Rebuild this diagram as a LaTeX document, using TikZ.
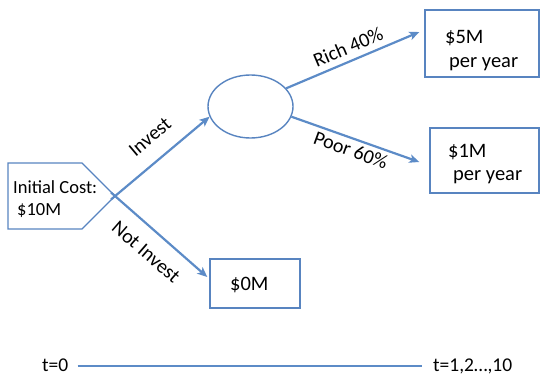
\documentclass[tikz,border=0pt]{standalone}
\usepackage{fontspec}
\setmainfont{Carlito}
\usetikzlibrary{shapes.geometric,arrows.meta,calc}
\definecolor{arrowblue}{RGB}{92,139,199}
\definecolor{boxblue}{RGB}{88,132,192}
\begin{document}
\begin{tikzpicture}[x=1pt,y=1pt,
  conn/.style={draw=arrowblue,line width=2.2pt,-{Stealth[length=10pt,width=8.5pt,inset=2.5pt]}},
  outline/.style={draw=boxblue,line width=1.4pt},
  lab/.style={font=\fontsize{20}{24}\selectfont,inner sep=0pt},
  boxtext/.style={font=\fontsize{20.5}{24}\selectfont,inner sep=0pt,anchor=base west},
  ttext/.style={font=\fontsize{19.5}{23}\selectfont,inner sep=0pt,anchor=base west},
  boxnode/.style={outline,rectangle,inner sep=0pt}]
\useasboundingbox (0,0) rectangle (541,376);
% initial cost pentagon
\draw[outline] (8,213) -- (82,213) -- (115,180) -- (82,147) -- (8,147) -- cycle;
\node[font=\fontsize{18.5}{21}\selectfont,inner sep=0pt,anchor=base west] (init1) at (13,183) {Initial Cost:};
\node[font=\fontsize{18.5}{21}\selectfont,inner sep=0pt,anchor=base west] (init2) at (17,161) {\$10M};
\coordinate (invS) at (111,176.5);
\coordinate (notS) at (111,183.5);
% chance node and outcome boxes
\node[ellipse,outline,minimum width=85pt,minimum height=63pt,inner sep=0pt] (chance) at (250.5,269.5) {};
\node[boxnode,minimum width=90pt,minimum height=49pt] (zero) at (255,92.5) {};
\node[boxnode,minimum width=114pt,minimum height=67pt] (five) at (482,332.5) {};
\node[boxnode,minimum width=109pt,minimum height=65pt] (one) at (484.5,215.5) {};
% connectors
\draw[conn] (invS) -- (chance.194);
\draw[conn] (notS) -- ($(zero.west)+(-2,6.5)$);
\draw[conn] (chance.27) -- ($(five.west)+(-5,11.5)$);
\draw[conn] (chance.-14) -- ($(one.west)+(-10,-1.5)$);
% labels
\node[lab,rotate=40] (linv) at (150,239) {Invest};
\node[lab,rotate=-41] (lnot) at (146,124) {Not Invest};
\node[lab,rotate=23] (lrich) at (348,329) {Rich 40\%};
\node[lab,rotate=-20] (lpoor) at (351,226) {Poor 60\%};
% box texts
\node[boxtext] (five1) at (445,333) {\$5M};
\node[boxtext] (five2) at (449,309) {per year};
\node[boxtext] (one1) at (448,219) {\$1M};
\node[boxtext] (one2) at (453,196) {per year};
\node[boxtext] (zero1) at (230,86) {\$0M};
% timeline
\node[ttext] (t0) at (42,5) {t=0};
\node[ttext] (t10) at (433,5) {t=1,2…,10};
\draw[draw=arrowblue,line width=2.2pt] ($(t0.base east)+(9,5)$) -- ($(t10.base west)+(-11,5)$);
\end{tikzpicture}
\end{document}
